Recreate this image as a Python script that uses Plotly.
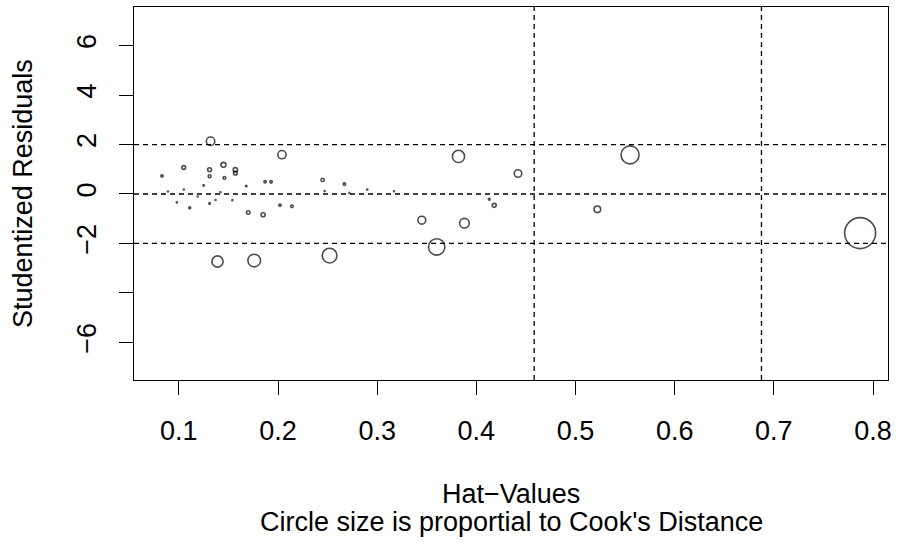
import plotly.graph_objects as go
import numpy as np

# ---- data ----
hat = [0.083, 0.089, 0.098, 0.105, 0.105, 0.111, 0.119, 0.125, 0.131, 0.132,
       0.131, 0.131, 0.137, 0.139, 0.142, 0.145, 0.146, 0.154, 0.157, 0.157,
       0.168, 0.170, 0.176, 0.185, 0.187, 0.193, 0.202, 0.204, 0.214, 0.245,
       0.247, 0.252, 0.267, 0.272, 0.290, 0.317, 0.345, 0.360, 0.382, 0.388,
       0.413, 0.418, 0.442, 0.522, 0.555, 0.787]
rstudent = [0.73, 0.10, -0.34, 1.07, 0.18, -0.56, -0.10, 0.34, -0.38, 2.13,
            0.98, 0.72, -0.24, -2.73, 0.07, 1.18, 0.65, -0.25, 0.98, 0.84,
            0.32, -0.75, -2.69, -0.84, 0.49, 0.49, -0.45, 1.59, -0.50, 0.57,
            0.12, -2.49, 0.40, 0.04, 0.18, 0.11, -1.06, -2.14, 1.52, -1.18,
            -0.21, -0.46, 0.83, -0.62, 1.58, -1.58]
cook = [0.0044, 0.0001, 0.0011, 0.0122, 0.0003, 0.0036, 0.0001, 0.0015, 0.0020, 0.0627,
        0.0132, 0.0071, 0.0008, 0.1094, 0.0001, 0.0215, 0.0065, 0.0010, 0.0163, 0.0120,
        0.0019, 0.0105, 0.1405, 0.0146, 0.0050, 0.0052, 0.0047, 0.0588, 0.0062, 0.0096,
        0.0004, 0.1902, 0.0053, 0.0001, 0.0012, 0.0005, 0.0539, 0.2342, 0.1297, 0.0801,
        0.0028, 0.0138, 0.0496, 0.0382, 0.2825, 0.8385]

hat_cutoffs = [0.4583, 0.6875]
resid_cutoffs = [-2, 0, 2]

x_ticks = [0.1, 0.2, 0.3, 0.4, 0.5, 0.6, 0.7, 0.8]
x_ticklabels = ["0.1", "0.2", "0.3", "0.4", "0.5", "0.6", "0.7", "0.8"]
y_ticks = [6, 4, 2, 0, -2, -4, -6]
y_ticklabels = ["6", "4", "2", "0", "\u22122", "", "\u22126"]

# ---- figure ----
FONT = "Liberation Sans, Arial, Helvetica, sans-serif"
FS = 27

sq = np.sqrt(np.array(cook))
sizes = np.maximum(31.0 * sq / sq.max(), 1.0)

fig = go.Figure()
fig.add_trace(go.Scatter(
    x=hat, y=rstudent, mode="markers",
    marker=dict(symbol="circle-open", size=sizes, color="black",
                line=dict(color="black", width=1.6)),
    showlegend=False, hoverinfo="x+y"))

DASH = dict(color="black", width=1.3, dash="5px,4px")
shapes = []
for h in hat_cutoffs:
    shapes.append(dict(type="line", xref="x", yref="paper", x0=h, x1=h, y0=0, y1=1,
                       line=DASH))
for r in resid_cutoffs:
    shapes.append(dict(type="line", xref="paper", yref="y", x0=0, x1=1, y0=r, y1=r,
                       line=DASH))

fig.update_layout(
    width=898, height=544,
    margin=dict(l=134, r=7, t=6, b=164, pad=0),
    paper_bgcolor="white", plot_bgcolor="white",
    font=dict(family=FONT, size=FS, color="black"),
    shapes=shapes,
    xaxis=dict(range=[0.0548, 0.8151], tickvals=x_ticks, ticktext=x_ticklabels,
               showgrid=False, zeroline=False, showline=True, mirror=True,
               linecolor="black", linewidth=1.3, ticks="outside", ticklen=14,
               tickwidth=1.3, tickcolor="black", ticklabelstandoff=12,
               tickfont=dict(family=FONT, size=FS)),
    yaxis=dict(range=[-7.52, 7.56], tickvals=y_ticks, ticktext=y_ticklabels,
               showgrid=False, zeroline=False, showline=True, mirror=True,
               linecolor="black", linewidth=1.3, ticks="outside", ticklen=14,
               tickwidth=1.3, tickcolor="black", tickangle=-90, ticklabelstandoff=12,
               tickfont=dict(family=FONT, size=FS)),
    annotations=[
        dict(text="Hat\u2212Values", xref="paper", yref="paper", x=0.5, y=(380 - 494) / 374,
             xanchor="center", yanchor="middle", showarrow=False,
             font=dict(family=FONT, size=FS)),
        dict(text="Circle size is proportial to Cook's Distance", xref="paper", yref="paper",
             x=0.5, y=(380 - 522) / 374, xanchor="center", yanchor="middle", showarrow=False,
             font=dict(family=FONT, size=FS)),
        dict(text="Studentized Residuals", xref="paper", yref="paper",
             x=(22 - 134) / 757, y=0.5, xanchor="center", yanchor="middle",
             textangle=-90, showarrow=False, font=dict(family=FONT, size=FS)),
    ],
)

fig.write_html("out.html", config={"displayModeBar": False},
               post_script="document.body.style.margin='0';")
